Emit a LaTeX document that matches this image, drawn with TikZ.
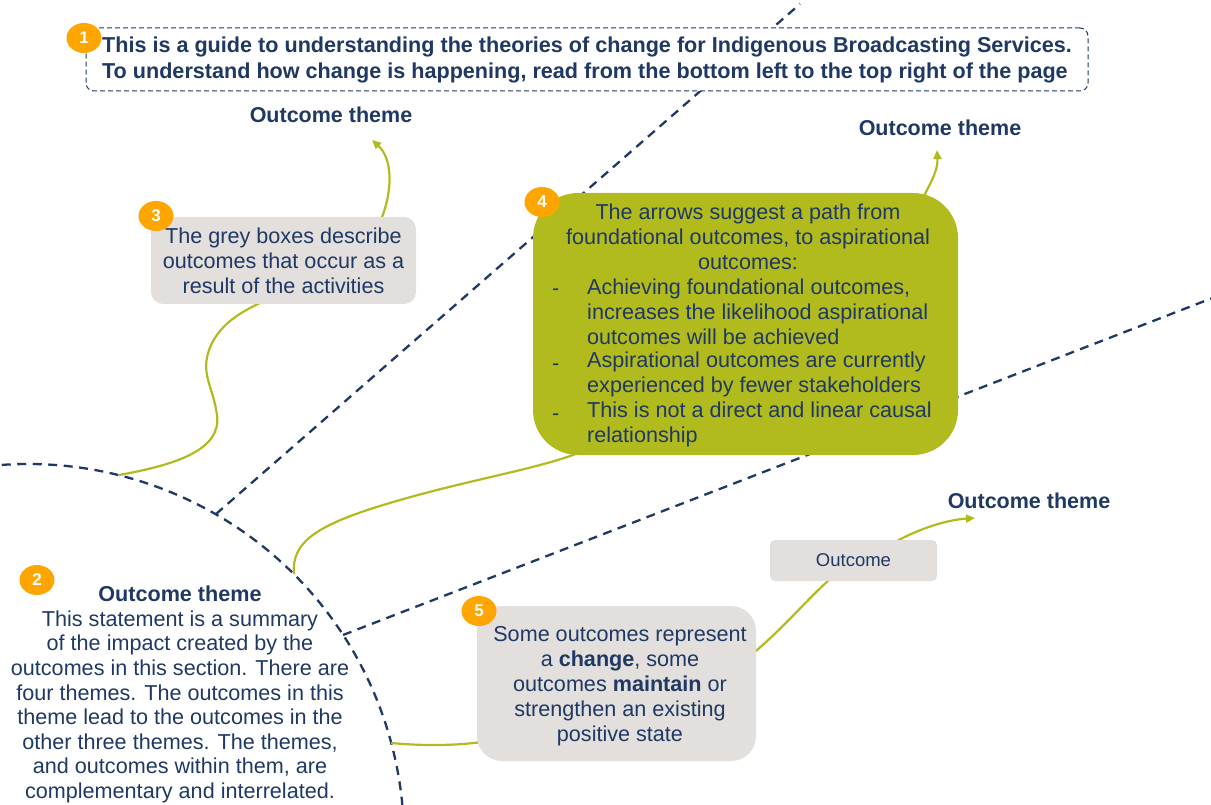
\documentclass[tikz,border=0pt]{standalone}
\usepackage{fontspec}
\setmainfont{Liberation Sans}
\usetikzlibrary{arrows.meta,shapes.geometric,calc}
\definecolor{navy}{HTML}{1F3864}
\definecolor{olivegreen}{HTML}{B2BB1E}
\definecolor{greybox}{HTML}{E2DFDC}
\definecolor{badgeorange}{HTML}{FFA500}
\pgfdeclarelayer{bg}
\pgfsetlayers{bg,main}
\begin{document}
\begin{tikzpicture}[x=1pt,y=-1pt,
  txt/.style={text=navy,font=\fontsize{21.6}{25}\selectfont,inner sep=0pt},
  hd/.style={text=navy,font=\bfseries\fontsize{21.5}{25}\selectfont,inner sep=0pt},
  greybx/.style={fill=greybox,draw=none,text=navy,font=\fontsize{21.6}{25}\selectfont,align=center,inner sep=0pt},
  badgenode/.style={ellipse,fill=badgeorange,minimum width=35pt,minimum height=30pt,inner sep=0pt,text=white,font=\bfseries\fontsize{17}{17}\selectfont},
  conn/.style={olivegreen,line width=2.2pt},
  divider/.style={navy,line width=2.3pt,dash pattern=on 9pt off 6.5pt},
  tip/.style={-{Triangle[length=9pt,width=8pt]}}
]
\useasboundingbox (0,0) rectangle (1211,805);
\coordinate (c) at (28,840);
\coordinate (p76) at ($(c)+(91,-365)$);
\coordinate (p60) at ($(c)+(188,-326)$);
\coordinate (p45) at ($(c)+(266,-266)$);
\coordinate (p33) at ($(c)+(315,-205)$);
\coordinate (p15) at ($(c)+(363,-97)$);
\coordinate (eA) at (800,4);
\coordinate (eB) at (1215,297);
\coordinate (t1) at (372,140);
\coordinate (t2) at (937,150);
\coordinate (t3) at (975,518);

% title box
\node[draw=navy,line width=1pt,dash pattern=on 5pt off 3pt,rounded corners=8pt,fill=white,
  minimum width=1002pt,minimum height=63pt,align=left,text=navy,
  font=\bfseries\fontsize{21.6}{26}\selectfont,inner sep=0pt] (title) at (587,59.5)
  {This is a guide to understanding the theories of change for Indigenous Broadcasting Services.\\
   To understand how change is happening, read from the bottom left to the top right of the page};

% boxes
\node[greybx,rounded corners=12pt,minimum width=265pt,minimum height=87pt] (b3) at (283.5,260.5)
  {The grey boxes describe\\outcomes that occur as a\\result of the activities};
\node[fill=olivegreen,draw=none,rounded corners=45pt,minimum width=425pt,minimum height=262pt] (b4) at (745.5,324) {};
\node[txt,align=center] (b4a) at (748,237) {The arrows suggest a path from\\foundational outcomes, to aspirational\\outcomes:};
\node[txt,anchor=west] (d1) at (552,292) {-};
\node[txt,anchor=west] (d2) at (552,367) {-};
\node[txt,anchor=west] (d3) at (552,417) {-};
\node[txt,align=left,anchor=west] (i1) at (587,312) {Achieving foundational outcomes,\\increases the likelihood aspirational\\outcomes will be achieved};
\node[txt,align=left,anchor=west] (i2) at (587,374.5) {Aspirational outcomes are currently\\experienced by fewer stakeholders};
\node[txt,align=left,anchor=west] (i3) at (587,424.5) {This is not a direct and linear causal\\relationship};

\node[greybx,rounded corners=25pt,minimum width=279pt,minimum height=155pt] (b5) at (616.5,683.5) {};
\node[txt,align=center] (b5t) at (620,686.5)
  {Some outcomes represent\\a \textbf{change}, some\\outcomes \textbf{maintain} or\\strengthen an existing\\positive state};
\node[greybx,rounded corners=5pt,minimum width=167pt,minimum height=41pt,font=\fontsize{18.5}{20}\selectfont] (oc) at (853.5,560.5) {Outcome};

% labels
\node[hd] (l1) at (331,115) {Outcome theme};
\node[hd] (l2) at (940,128) {Outcome theme};
\node[hd] (l3) at (1029,501) {Outcome theme};
\node[txt,align=center,font=\fontsize{21.6}{24.6}\selectfont] (sum) at (180,694.5)
  {\textbf{Outcome theme}\\This statement is a summary\\of the impact created by the\\outcomes in this section. There are\\four themes. The outcomes in this\\theme lead to the outcomes in the\\other three themes. The themes,\\and outcomes within them, are\\complementary and interrelated.};

% badges
\node[badgenode] (n1) at (84,38) {1};
\node[badgenode] (n2) at (37,580) {2};
\node[badgenode] (n3) at (156,216) {3};
\node[badgenode] (n4) at (542,202) {4};
\node[badgenode] (n5) at (479,611) {5};

\begin{pgfonlayer}{bg}
  \clip (0,0) rectangle (1211,805);
  \draw[divider] ($(c)+(-94:376)$) arc[start angle=-94,end angle=5,radius=376];
  \draw[divider] (p60) -- (eA);
  \draw[divider] (p33) -- (eB);
  \draw[conn,tip] (p76) .. controls (175,465) and (222,450) .. (217,415)
     .. controls (213,385) and (198,372) .. (212,343)
     .. controls (225,318) and (250,308) .. (270,298)
     -- (380,222) .. controls (392,195) and (394,160) .. (t1);
  \draw[conn,tip] (p45) .. controls (291,540) and (320,523) .. (400,500)
     .. controls (480,477) and (550,467) .. (590,448)
     -- (922,200) .. controls (932,180) and (938,170) .. (t2);
  \draw[conn,tip] (p15) .. controls (425,746) and (455,746) .. (490,741)
     -- (745,660) .. controls (785,628) and (810,595) .. (835,575)
     -- (890,545) .. controls (915,530) and (945,520) .. (t3);
\end{pgfonlayer}
\end{tikzpicture}
\end{document}
